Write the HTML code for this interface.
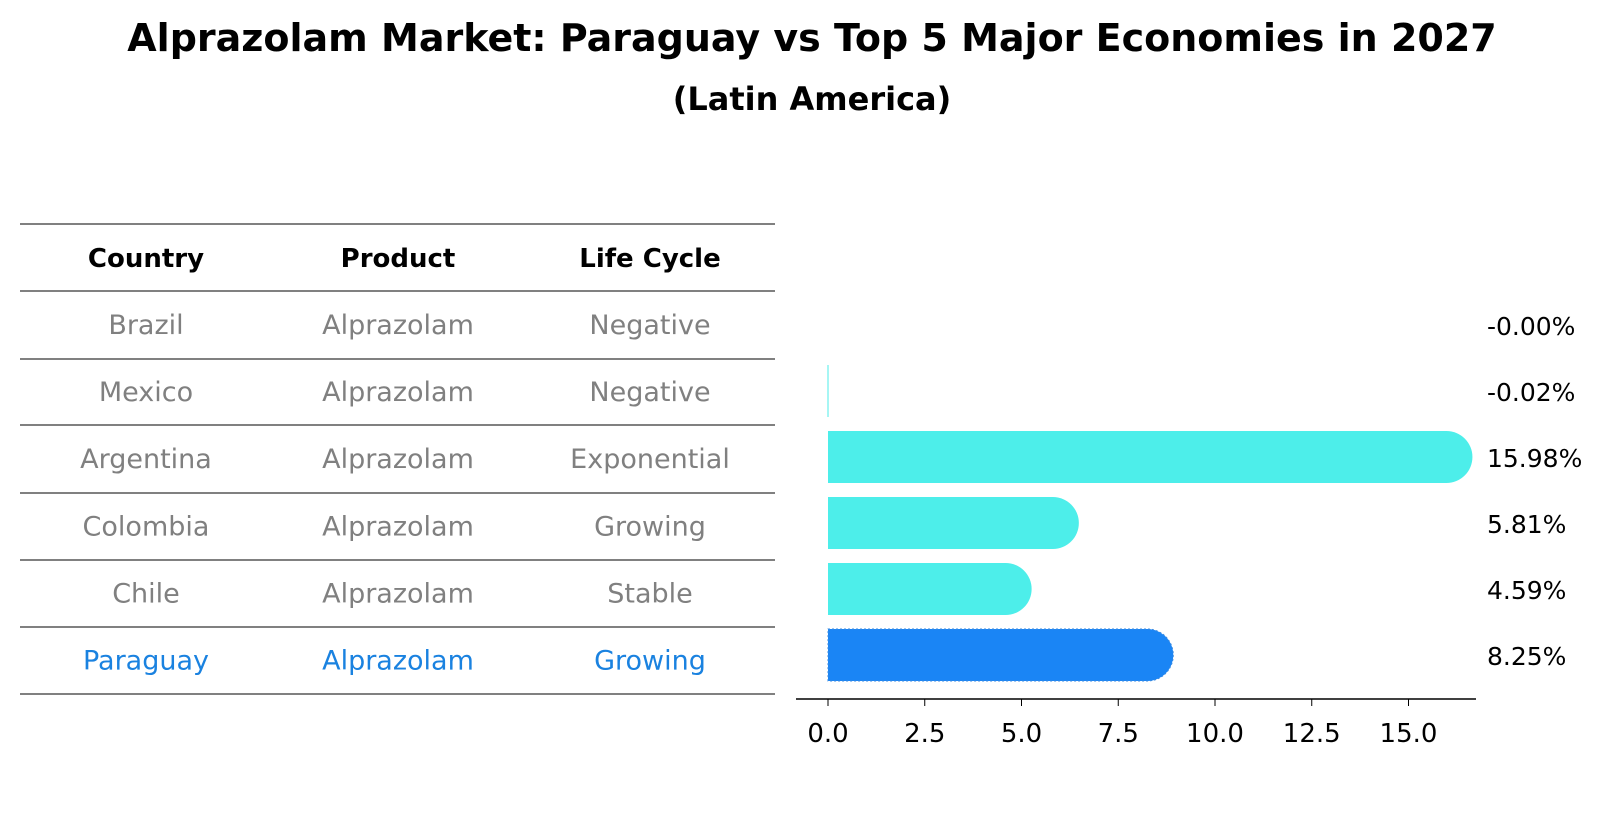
<!DOCTYPE html>
<html><head><meta charset="utf-8"><style>
body{margin:0;background:#fff;font-family:"Liberation Sans","DejaVu Sans",sans-serif}
</style></head><body>
<svg id="c" width="1604" height="823" xmlns="http://www.w3.org/2000/svg" font-family="DejaVu Sans, Liberation Sans, sans-serif">
<text x="812" y="51" text-anchor="middle" font-size="38" font-weight="bold">Alprazolam Market: Paraguay vs Top 5 Major Economies in 2027</text>
<text x="812" y="110" text-anchor="middle" font-size="32" font-weight="bold">(Latin America)</text>
<g id="table"></g>
<g id="bars"></g>
</svg>
<script>
const countries=["Brazil","Mexico","Argentina","Colombia","Chile","Paraguay"];
const products=["Alprazolam","Alprazolam","Alprazolam","Alprazolam","Alprazolam","Alprazolam"];
const lifeCycles=["Negative","Negative","Exponential","Growing","Stable","Growing"];
const growth=[-0.00,-0.02,15.98,5.81,4.59,8.25];
const growthLabels=["-0.00%","-0.02%","15.98%","5.81%","4.59%","8.25%"];
const ticks=[0,2.5,5,7.5,10,12.5,15];
const NS="http://www.w3.org/2000/svg";
function mk(tag,attrs,parent,text){const e=document.createElementNS(NS,tag);for(const k in attrs)e.setAttribute(k,attrs[k]);if(text!==undefined)e.textContent=text;parent.appendChild(e);return e;}
const tbl=document.getElementById('table');
const lines=[224,291,359,425,493,560,627,694];
lines.forEach(y=>{const l=mk('line',{x1:20,x2:775,y1:y,y2:y,stroke:'#000','stroke-width':1},tbl);

});
const colX=[146,398,650];
["Country","Product","Life Cycle"].forEach((h,i)=>{const t=mk('text',{x:colX[i],y:267,'text-anchor':'middle','font-size':26,'font-weight':'bold'},tbl,h);

});
countries.forEach((c,r)=>{const y=(lines[r+1]+lines[r+2])/2+9;const col=c==="Paraguay"?'#1a82e0':'#808080';
[c,products[r],lifeCycles[r]].forEach((v,i)=>{const t=mk('text',{x:colX[i],y:y,'text-anchor':'middle','font-size':27,fill:col},tbl,v);

});});
const g=document.getElementById('bars');
const x0=828,ppu=38.7;
const xs=v=>x0+v*ppu;
const yc=i=>325+i*66;
const bh=52,rr=26;
growth.forEach((v,i)=>{const c=yc(i);const col=countries[i]==="Paraguay"?'#1a85f5':'#4deeea';
let el;
if(v<=0){ if(v<-0.01){el=mk('rect',{x:x0-0.5,y:c-bh/2,width:1,height:bh,fill:col},g);}else{el=mk('rect',{x:x0,y:c-bh/2,width:0,height:bh,fill:col},g);} }
else{const xe=xs(v);el=mk('path',{d:`M${x0},${c-bh/2} L${xe},${c-bh/2} A${rr},${rr} 0 0 1 ${xe},${c+bh/2} L${x0},${c+bh/2} Z`,fill:col},g);
if(countries[i]==="Paraguay"){el.setAttribute('stroke','#3a8ae0');el.setAttribute('stroke-dasharray','2,2');}}


const t=mk('text',{x:1487,y:c+10,'font-size':25},g,growthLabels[i]);

});
const ax=mk('line',{x1:796,x2:1476,y1:699,y2:699,stroke:'#000','stroke-width':1.5},g);


ticks.forEach(tv=>{const x=xs(tv);mk('line',{x1:x,x2:x,y1:699,y2:706,stroke:'#000'},g);
const t=mk('text',{x:x,y:742,'text-anchor':'middle','font-size':26},g,tv.toFixed(1));

});
</script>
</body></html>
